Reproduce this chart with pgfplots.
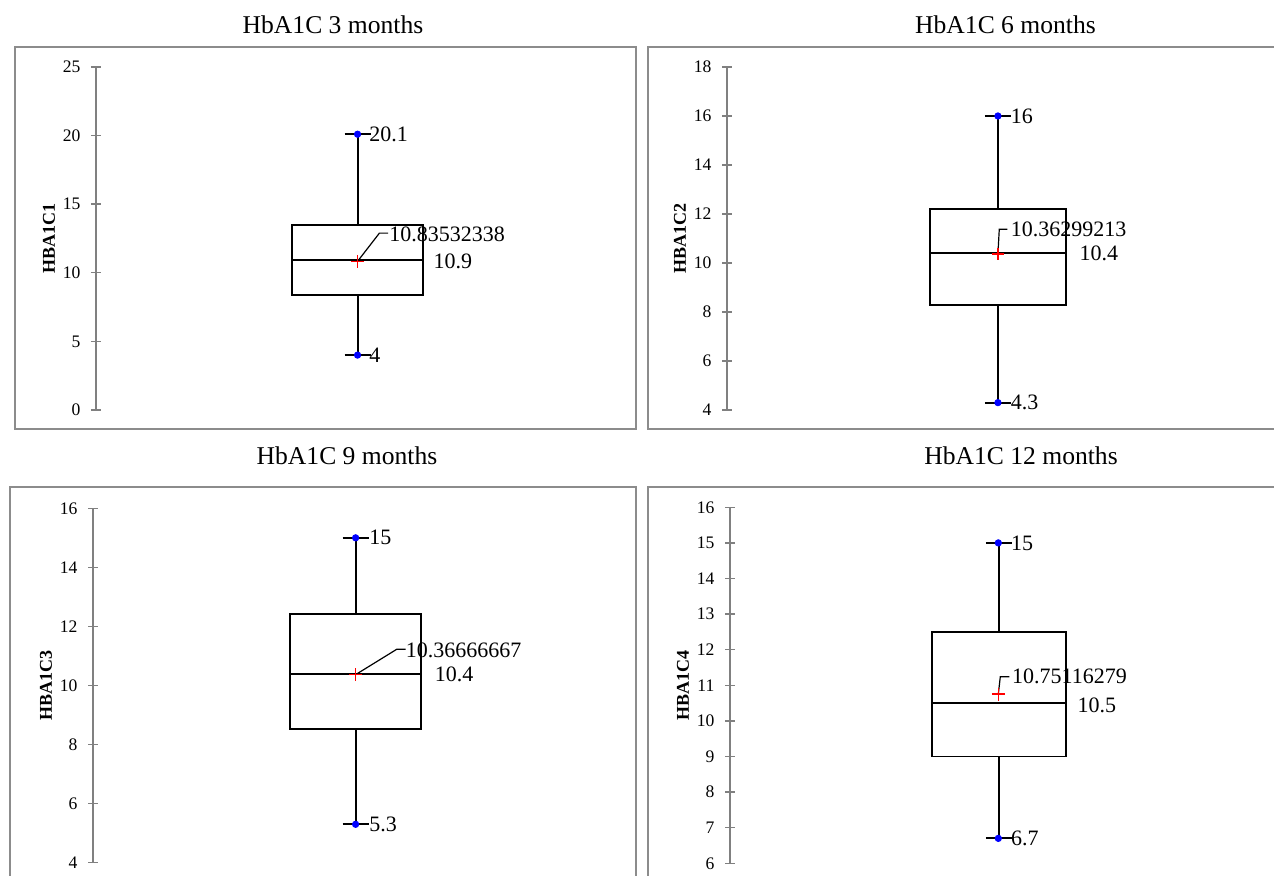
\documentclass[border=0pt]{standalone}
\usepackage{fontspec}
\setmainfont{Liberation Serif}
\usepackage{pgfplots}
\pgfplotsset{compat=1.18}
\usepgfplotslibrary{statistics}
\definecolor{framegray}{RGB}{140,140,140}
\definecolor{axgray}{RGB}{128,128,128}
\newcommand{\dl}{\fontsize{11}{12}\selectfont}
\tikzset{dlab/.style={anchor=west, inner sep=0pt, font=\dl}}
\pgfplotsset{
  panel/.style={
    scale only axis, width=260pt, anchor=south west,
    xmin=0, xmax=1, hide x axis, axis y line*=left,
    axis line style={axgray, line width=0.7pt},
    ytick style={axgray, line width=0.7pt},
    tick align=center, major tick length=5pt,
    yticklabel style={font=\fontsize{8.8}{10}\selectfont, xshift=-1.75pt},
    /pgf/number format/assume math mode=true,
    ylabel style={font=\fontsize{9}{10}\selectfont\bfseries, at={(axis description cs:0,0.5)}, anchor=center, yshift=23.5pt},
    clip=false,
    boxplot/draw direction=y,
  },
  bx/.style={black, line width=0.95pt, solid},
  mx/.style={only marks, mark=*, mark size=1.6pt, blue},
  mn/.style={only marks, mark=+, mark size=3.2pt, red, mark options={line width=0.7pt, red}},
  ld/.style={black, line width=0.6pt, mark=none, solid},
}
\begin{document}
\begin{tikzpicture}
\useasboundingbox (0,0) rectangle (637pt,438pt);
\clip (0,0) rectangle (637pt,438pt);
% frames
\draw[framegray, line width=1pt] (7.25pt,414.25pt) rectangle (317.75pt,223.25pt);
\draw[framegray, line width=1pt] (324pt,414.25pt) rectangle (650pt,223.25pt);
\draw[framegray, line width=1pt] (4.75pt,194.5pt) rectangle (317.75pt,-10pt);
\draw[framegray, line width=1pt] (324pt,194.5pt) rectangle (650pt,-10pt);
% titles
\node[anchor=base, font=\fontsize{12.8}{14}\selectfont] at (166.5pt,421.35pt) {HbA1C 3 months};
\node[anchor=base, font=\fontsize{12.8}{14}\selectfont] at (502.75pt,421.35pt) {HbA1C 6 months};
\node[anchor=base, font=\fontsize{12.8}{14}\selectfont] at (173.5pt,205.5pt) {HbA1C 9 months};
\node[anchor=base, font=\fontsize{12.8}{14}\selectfont] at (510.5pt,205.5pt) {HbA1C 12 months};

% Panel 1
\begin{axis}[panel, at={(48pt,233pt)}, height=171.5pt, ymin=0, ymax=25, ytick={0,5,...,25}, ylabel={HBA1C1}]
\addplot[bx, boxplot prepared={draw position=0.503, box extend=0.251, whisker extend=0.05,
  median=10.9, upper quartile=13.5, lower quartile=8.4, upper whisker=20.1, lower whisker=4}] coordinates {};
\addplot[ld] coordinates {(0.503,10.835) (0.545,12.89) (0.562,12.89)};
\addplot[mx] coordinates {(0.503,20.1) (0.503,4)};
\addplot[mn] coordinates {(0.503,10.83532338)};
\node[dlab] at (axis cs:0.525,20.1) {20.1};
\node[dlab] at (axis cs:0.525,4) {4};
\node[dlab] at (axis cs:0.5635,12.8) {10.83532338};
\node[dlab] at (axis cs:0.6487,10.8) {10.9};
\end{axis}

% Panel 2
\begin{axis}[panel, at={(363.5pt,233pt)}, height=171.5pt, ymin=4, ymax=18, ytick={4,6,...,18}, ylabel={HBA1C2}]
\addplot[bx, boxplot prepared={draw position=0.521, box extend=0.2615, whisker extend=0.05,
  median=10.4, upper quartile=12.2, lower quartile=8.28, upper whisker=16, lower whisker=4.3}] coordinates {};
\addplot[ld] coordinates {(0.521,10.363) (0.5236,11.38) (0.5392,11.38)};
\addplot[mx] coordinates {(0.521,16) (0.521,4.3)};
\addplot[mn] coordinates {(0.521,10.36299213)};
\node[dlab] at (axis cs:0.545,16) {16};
\node[dlab] at (axis cs:0.545,4.3) {4.3};
\node[dlab] at (axis cs:0.545,11.38) {10.36299213};
\node[dlab] at (axis cs:0.6775,10.4) {10.4};
\end{axis}

% Panel 3
\begin{axis}[panel, at={(46.5pt,6.65pt)}, height=177.2pt, ymin=4, ymax=16, ytick={4,6,...,16}, ylabel={HBA1C3}]
\addplot[bx, boxplot prepared={draw position=0.505, box extend=0.252, whisker extend=0.05,
  median=10.4, upper quartile=12.43, lower quartile=8.52, upper whisker=15, lower whisker=5.3}] coordinates {};
\addplot[ld] coordinates {(0.505,10.367) (0.584,11.225) (0.601,11.225)};
\addplot[mx] coordinates {(0.505,15) (0.505,5.3)};
\addplot[mn] coordinates {(0.505,10.36666667)};
\node[dlab] at (axis cs:0.5308,15) {15};
\node[dlab] at (axis cs:0.5308,5.3) {5.3};
\node[dlab] at (axis cs:0.601,11.19) {10.36666667};
\node[dlab] at (axis cs:0.6565,10.37) {10.4};
\end{axis}

% Panel 4
\begin{axis}[panel, at={(365pt,6.35pt)}, height=178pt, ymin=6, ymax=16, ytick={6,7,...,16}, ylabel={HBA1C4}]
\addplot[bx, boxplot prepared={draw position=0.517, box extend=0.2577, whisker extend=0.05,
  median=10.5, upper quartile=12.5, lower quartile=9.0, upper whisker=15, lower whisker=6.7}] coordinates {};
\addplot[ld] coordinates {(0.516,10.751) (0.5198,11.24) (0.537,11.24)};
\addplot[mx] coordinates {(0.516,15) (0.516,6.7)};
\addplot[mn] coordinates {(0.516,10.75116279)};
\node[dlab] at (axis cs:0.540,15) {15};
\node[dlab] at (axis cs:0.540,6.7) {6.7};
\node[dlab] at (axis cs:0.5417,11.25) {10.75116279};
\node[dlab] at (axis cs:0.6677,10.45) {10.5};
\end{axis}
\end{tikzpicture}
\end{document}
